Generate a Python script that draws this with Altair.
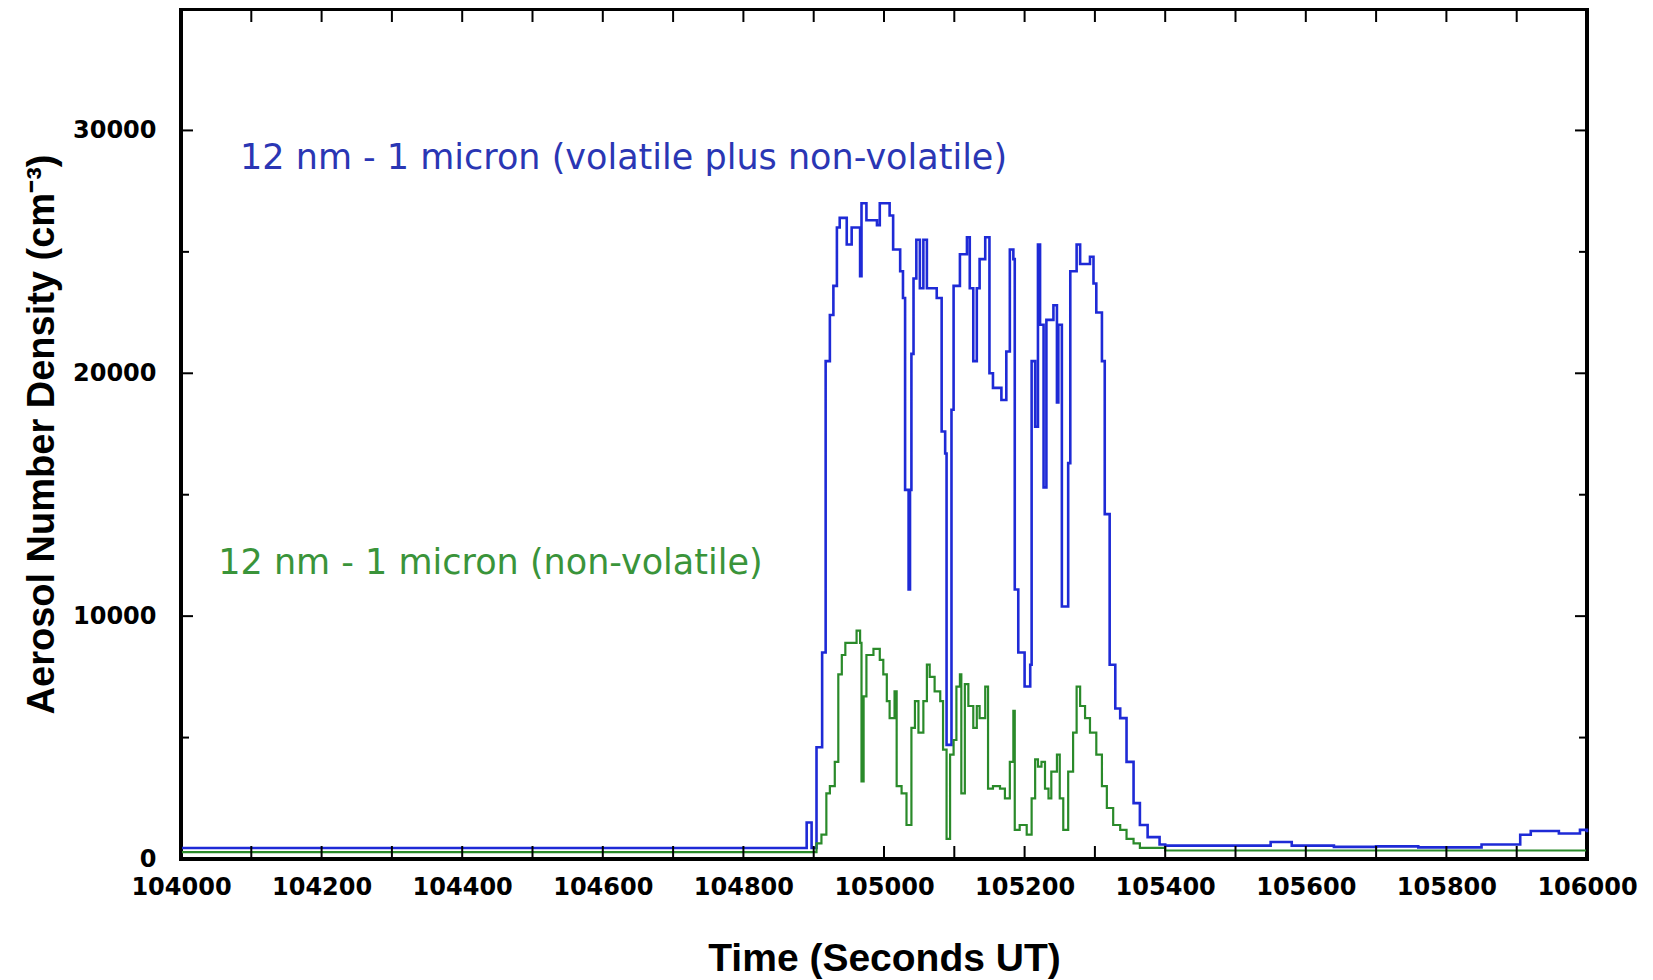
import altair as alt
import pandas as pd

# ---------------- data ----------------
blue_t = [104000, 104850, 104890, 104897, 104904, 104912, 104917, 104923, 104928, 104933,
          104937, 104947, 104954, 104966, 104968, 104975, 104990, 104994, 105008, 105013,
          105023, 105027, 105030, 105035, 105037, 105039, 105042, 105046, 105051, 105056,
          105061, 105075, 105082, 105087, 105089, 105096, 105099, 105108, 105118, 105122,
          105127, 105132, 105136, 105144, 105150, 105155, 105167, 105174, 105179, 105184,
          105186, 105191, 105200, 105208, 105210, 105215, 105219, 105222, 105227, 105231,
          105241, 105246, 105248, 105253, 105262, 105265, 105274, 105279, 105293, 105298,
          105302, 105310, 105314, 105321, 105329, 105336, 105345, 105355, 105364, 105375,
          105392, 105400, 105500, 105550, 105580, 105640, 105700, 105760, 105850, 105905,
          105920, 105960, 105990, 106000]
blue_v = [450, 450, 1500, 450, 4600, 8500, 20500, 22400, 23600, 26000,
          26400, 25300, 26000, 24000, 27000, 26300, 26100, 27000, 26500, 25100,
          24200, 23100, 15200, 11100, 15200, 20800, 23900, 25500, 23500, 25500,
          23500, 23100, 17600, 16700, 4700, 18500, 23600, 24900, 25600, 23500,
          20500, 23500, 24700, 25600, 20000, 19400, 18900, 20900, 25100, 24700,
          11100, 8500, 7100, 8000, 20500, 17800, 25300, 22000, 15300, 22200,
          22800, 18800, 22000, 10400, 16300, 24200, 25300, 24500, 24800, 23700,
          22500, 20500, 14200, 8000, 6200, 5800, 4000, 2300, 1400, 900,
          600, 550, 550, 700, 550, 500, 520, 480, 600, 1000,
          1150, 1050, 1200, 1100]

green_t = [104000, 104900, 104904, 104911, 104918, 104923, 104930, 104935, 104940, 104945,
           104961, 104966, 104968, 104971, 104975, 104985, 104994, 104999, 105004, 105008,
           105015, 105018, 105025, 105032, 105039, 105044, 105049, 105056, 105061, 105065,
           105072, 105080, 105084, 105089, 105094, 105099, 105103, 105108, 105110, 105115,
           105120, 105127, 105132, 105136, 105144, 105148, 105155, 105165, 105172, 105179,
           105184, 105186, 105193, 105203, 105210, 105215, 105219, 105224, 105229, 105234,
           105238, 105246, 105250, 105255, 105262, 105269, 105274, 105279, 105286, 105293,
           105302, 105310, 105317, 105326, 105336, 105345, 105355, 105364, 105400, 106000]
green_v = [280, 280, 640, 1000, 2700, 3000, 4000, 7600, 8400, 8900,
           9400, 8900, 3200, 6700, 8400, 8650, 8200, 7600, 6500, 5800,
           6900, 3000, 2700, 1400, 5400, 6500, 5200, 6500, 8000, 7500,
           6900, 6500, 4500, 830, 4300, 4900, 7100, 7600, 2700, 7200,
           6300, 5400, 6300, 5800, 7100, 2900, 3000, 2900, 2500, 4000,
           6100, 1200, 1400, 1000, 2500, 4100, 3800, 4000, 2900, 2500,
           3600, 4300, 2500, 1200, 3600, 5200, 7100, 6300, 5800, 5200,
           4300, 3000, 2100, 1400, 1200, 830, 640, 460, 350, 300]

x_major = [104000, 104200, 104400, 104600, 104800, 105000, 105200, 105400, 105600, 105800, 106000]
x_minor = [104100, 104300, 104500, 104700, 104900, 105100, 105300, 105500, 105700, 105900]
y_major = [0, 10000, 20000, 30000]
y_minor = [5000, 15000, 25000, 35000]

ann_text = ["12 nm - 1 micron (volatile plus non-volatile)", "12 nm - 1 micron (non-volatile)"]
ann_t = [104084, 104053]
ann_v = [28870, 12200]
ann_color = ["#2a36b4", "#3a943a"]

BLUE = "#1e2ad6"
GREEN = "#2a8a2a"

W, H = 1406, 850

blue_df = pd.DataFrame({"t": blue_t, "v": blue_v})
green_df = pd.DataFrame({"t": green_t, "v": green_v})
ann_df = pd.DataFrame({"t": ann_t, "v": ann_v, "label": ann_text, "c": ann_color})
xmaj_df = pd.DataFrame({"t": x_major})
xmin_df = pd.DataFrame({"t": x_minor})
ymaj_df = pd.DataFrame({"v": y_major})
ymin_df = pd.DataFrame({"v": y_minor})

xscale = alt.Scale(domain=[104000, 106000], nice=False, zero=False)
yscale = alt.Scale(domain=[0, 35000], nice=False, zero=False)

x_axis = alt.Axis(values=x_major, format="d", title="Time (Seconds UT)",
                  domain=False, ticks=False, grid=False, labelPadding=16,
                  labelFlush=False, labelOverlap=False,
                  labelFont="DejaVu Sans", labelFontWeight="bold", labelFontSize=24,
                  labelColor="black",
                  titleFont="Liberation Sans Narrow, Liberation Sans", titleFontWeight="bold",
                  titleFontSize=39, titleColor="black",
                  titleX=W / 2, titleY=99, titleBaseline="middle", titleAlign="center")
y_axis = alt.Axis(values=y_major, format="d", title="Aerosol Number Density (cm⁻³)",
                  domain=False, ticks=False, grid=False, labelPadding=25,
                  labelFont="DejaVu Sans", labelFontWeight="bold", labelFontSize=24,
                  labelColor="black",
                  titleFont="Liberation Sans Narrow, Liberation Sans", titleFontWeight="bold",
                  titleFontSize=38, titleColor="black", titleAngle=-90,
                  titleX=-139, titleY=H / 2, titleBaseline="middle", titleAlign="center")

X = alt.X("t:Q", scale=xscale, axis=x_axis)
Y = alt.Y("v:Q", scale=yscale, axis=y_axis)

blue_line = alt.Chart(blue_df).mark_line(color=BLUE, strokeWidth=2.6, interpolate="step-after").encode(
    x=X, y=Y)
green_line = alt.Chart(green_df).mark_line(color=GREEN, strokeWidth=2.2, interpolate="step-after").encode(
    x=X, y=Y)
ann = alt.Chart(ann_df).mark_text(align="left", baseline="middle", font="DejaVu Sans", fontSize=35).encode(
    x=X, y=Y,
    text="label:N",
    color=alt.Color("c:N", scale=None),
)


def xticks(df, length):
    bot = alt.Chart(df).mark_rule(color="black", strokeWidth=2).encode(
        x=X, y=alt.value(H), y2=alt.value(H - length))
    top = alt.Chart(df).mark_rule(color="black", strokeWidth=2).encode(
        x=X, y=alt.value(0), y2=alt.value(length))
    return [bot, top]


def yticks(df, length):
    left = alt.Chart(df).mark_rule(color="black", strokeWidth=2).encode(
        y=Y, x=alt.value(0), x2=alt.value(length))
    right = alt.Chart(df).mark_rule(color="black", strokeWidth=2).encode(
        y=Y, x=alt.value(W), x2=alt.value(W - length))
    return [left, right]


layers = [blue_line, green_line, ann] + xticks(xmaj_df, 13) + xticks(xmin_df, 13) \
    + yticks(ymaj_df, 12) + yticks(ymin_df, 8)

chart = alt.layer(*layers).properties(
    width=W, height=H,
    padding={"left": 173, "top": 1, "right": 58, "bottom": 120},
    autosize=alt.AutoSizeParams(type="none"),
    background="white",
).configure_view(stroke="black", strokeWidth=4)

chart.save("out.html", embed_options={"renderer": "svg", "actions": False})
